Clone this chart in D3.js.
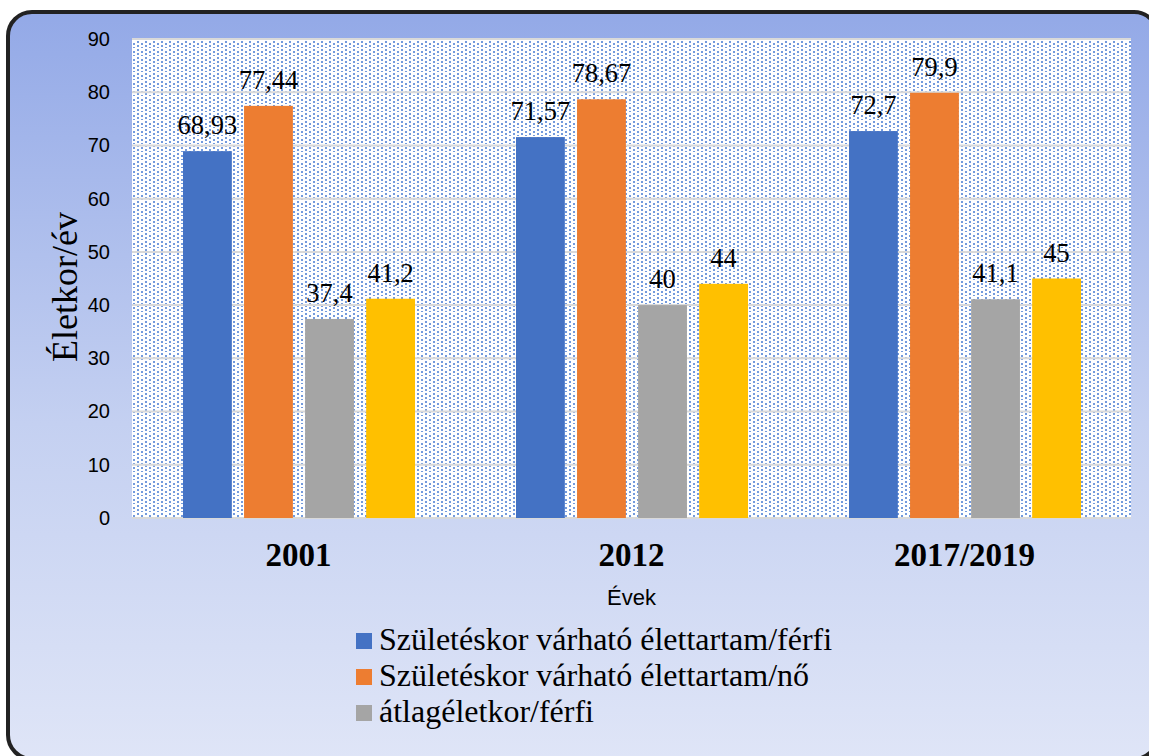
<!DOCTYPE html>
<html><head><meta charset="utf-8">
<script src="https://cdn.jsdelivr.net/npm/d3@7"></script>
<style>html,body{margin:0;padding:0;background:#fff;}svg{display:block;}</style>
</head><body>
<svg id="c" width="1149" height="756"></svg>
<script>
const categories = ["2001", "2012", "2017/2019"];
const seriesNames = ["Születéskor várható élettartam/férfi", "Születéskor várható élettartam/nő", "átlagéletkor/férfi", "átlagéletkor/nő"];
const seriesColors = ["#4472C4", "#ED7D31", "#A5A5A5", "#FFC000"];
const ferfiSzuletes = [68.93, 71.57, 72.7];
const noSzuletes = [77.44, 78.67, 79.9];
const atlagFerfi = [37.4, 40, 41.1];
const atlagNo = [41.2, 44, 45];
const labelsFerfiSzuletes = ["68,93", "71,57", "72,7"];
const labelsNoSzuletes = ["77,44", "78,67", "79,9"];
const labelsAtlagFerfi = ["37,4", "40", "41,1"];
const labelsAtlagNo = ["41,2", "44", "45"];
const yTicks = [0, 10, 20, 30, 40, 50, 60, 70, 80, 90];
const legendCount = 3;

const seriesVals = [ferfiSzuletes, noSzuletes, atlagFerfi, atlagNo];
const seriesLabels = [labelsFerfiSzuletes, labelsNoSzuletes, labelsAtlagFerfi, labelsAtlagNo];

const SERIF = "'Liberation Serif', 'Times New Roman', serif";
const SANS = "'Liberation Sans', Arial, sans-serif";

const svg = d3.select("#c");
const defs = svg.append("defs");
const grad = defs.append("linearGradient").attr("id","bg").attr("x1",0).attr("y1",0).attr("x2",0).attr("y2",1);
grad.append("stop").attr("offset","0%").attr("stop-color","#93A9E7");
grad.append("stop").attr("offset","55%").attr("stop-color","#C4D0F1");
grad.append("stop").attr("offset","100%").attr("stop-color","#DFE5F7");

const pat = defs.append("pattern").attr("id","dots").attr("patternUnits","userSpaceOnUse")
  .attr("width",8).attr("height",8);
pat.append("rect").attr("width",8).attr("height",8).attr("fill","#ffffff");
[[0,0],[0,4],[4,2],[4,6]].forEach(([x,y]) => pat.append("rect").attr("x",x+1).attr("y",y+1).attr("width",2).attr("height",2).attr("fill","#739ADD"));

// background frame
svg.append("rect").attr("x",8).attr("y",12).attr("width",1150).attr("height",747)
  .attr("rx",24).attr("ry",24).attr("fill","url(#bg)").attr("stroke","#222").attr("stroke-width",4);

const plotL = 132, plotR = 1131, plotT = 39, plotB = 518;
const y = d3.scaleLinear().domain([0, 90]).range([plotB, plotT]);
const x0 = d3.scaleBand().domain(categories).range([plotL, plotR]).paddingInner(0).paddingOuter(0);
const x1 = d3.scaleBand().domain(d3.range(4)).range([51, 283]).paddingInner(0.2).paddingOuter(0);

svg.append("rect").attr("x",plotL).attr("y",plotT).attr("width",plotR-plotL).attr("height",plotB-plotT).attr("fill","url(#dots)");

// gridlines
svg.append("g").selectAll("line").data(yTicks).join("line")
  .attr("x1",plotL).attr("x2",plotR).attr("y1",d=>y(d)).attr("y2",d=>y(d))
  .attr("stroke","#D9D9D9").attr("stroke-width",2);

// y axis
const yAxis = d3.axisLeft(y).tickValues(yTicks).tickSize(0).tickPadding(22);
const yg = svg.append("g").attr("transform",`translate(${plotL},0)`).call(yAxis);
yg.select(".domain").remove();
yg.attr("font-family", SANS).attr("font-size", 20);
yg.selectAll("text").attr("fill","#000");

// x axis
const xAxis = d3.axisBottom(x0).tickSize(0).tickPadding(25);
const xg = svg.append("g").attr("transform",`translate(0,${plotB})`).call(xAxis);
xg.select(".domain").remove();
xg.attr("font-family", SERIF).attr("font-size", 33).attr("font-weight","bold");
xg.selectAll("text").attr("fill","#000");

// bars
const groups = svg.append("g").selectAll("g").data(categories).join("g")
  .attr("transform", d => `translate(${x0(d)},0)`);
groups.selectAll("rect").data((d,i) => seriesVals.map((s,k) => ({k, v: s[i]}))).join("rect")
  .attr("x", d => x1(d.k)).attr("width", x1.bandwidth())
  .attr("y", d => y(d.v)).attr("height", d => y(0) - y(d.v))
  .attr("fill", d => seriesColors[d.k]);
groups.selectAll("text").data((d,i) => seriesVals.map((s,k) => ({k, v: s[i], t: seriesLabels[k][i]}))).join("text")
  .attr("x", d => x1(d.k) + x1.bandwidth()/2).attr("y", d => y(d.v) - 17)
  .attr("text-anchor","middle").style("font-family", SERIF)
  .style("font-size","26.5px").attr("fill","#000").text(d => d.t);

// axis titles
svg.append("text").attr("transform","translate(77,287) rotate(-90)").attr("text-anchor","middle")
  .style("font-family", SERIF).style("font-size","36px").attr("fill","#000").text("Életkor/év");
svg.append("text").attr("x",(plotL+plotR)/2).attr("y",605).attr("text-anchor","middle")
  .style("font-family", SANS).style("font-size","22px").attr("fill","#000").text("Évek");

// legend
const lg = svg.append("g").selectAll("g").data(d3.range(legendCount)).join("g")
  .attr("transform", d => `translate(356,${633 + d*36})`);
lg.append("rect").attr("width",16).attr("height",16).attr("fill", d => seriesColors[d]);
lg.append("text").attr("x",23).attr("y",17).style("font-family", SERIF)
  .style("font-size","32px").attr("fill","#000").text(d => seriesNames[d]);
</script>
</body></html>
